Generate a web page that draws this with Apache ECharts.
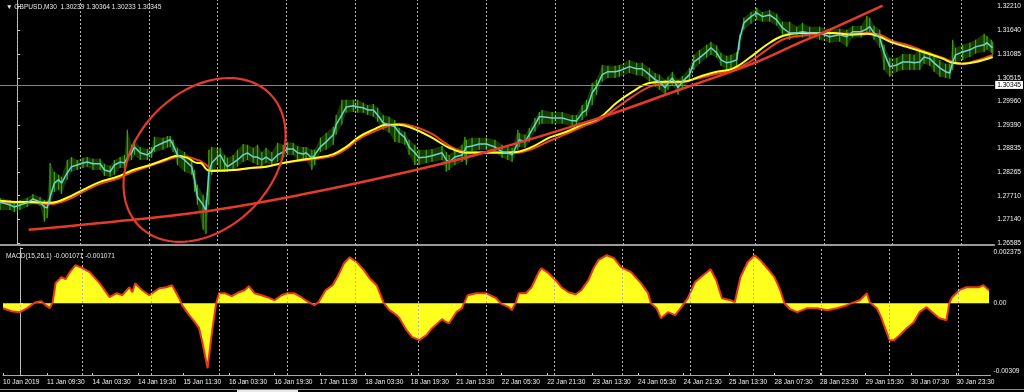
<!DOCTYPE html>
<html><head><meta charset="utf-8">
<script src="https://cdn.jsdelivr.net/npm/echarts@6/dist/echarts.min.js"></script>
<style>html,body{margin:0;padding:0;background:#000;}#c{width:1024px;height:392px;}</style>
</head><body><div id="c"></div>
<script>
// ---------- DATA ----------
// bar index (M30 bars, 0 = 11 Jan 00:00)
const priceBars = [-12,-5,-2,2,7,11,16,19,21,23, 26,29,31,35,38,42,46,49,53,58, 61,65,68,72,75,77,80,82,86,91,
 94,96,102,105,107,109,112,117,122,124, 126,130,132,134,136,140,142,145,147,151, 154,158,161,165,168,171,174,178,182,186,
 189,193,196,200,202,206,208,212,216,221, 223,227,230,235,238,242,245,249,252,256, 260,264,267,271,274,278,281,286,290,297,
 300,302,306,311,313,314,318,323,328,334, 339,343,346,350,351,355,358,362,365,367, 374,381,388,391,395,398,402,405,409,413,
 418,421,428,433,437,442,446,449,453,455, 458,462,465,470,473,477,482,485,489,492, 496,499,503,505,508,513,517,521,526,531,
 535,540,545,549,554,561,568,575,580,584, 590,594,596,599,603,606,610,615,619,624, 627,631,634,638,641,645,649,652,654,656,
 661,666,670,676,678,681,682];
const cyanMA = [1.2756,1.2749,1.2744,1.2749,1.2754,1.2763,1.2756,1.2744,1.2742,1.2768, 1.2801,1.2809,1.2801,1.2825,1.2840,1.2844,1.2849,1.2851,1.2847,1.2847,
 1.2832,1.2828,1.2844,1.2851,1.2849,1.2861,1.2873,1.2887,1.2873,1.2868, 1.2875,1.2887,1.2897,1.2901,1.2904,1.2892,1.2868,1.2856,1.2840,1.2809,
 1.2768,1.2749,1.2735,1.2825,1.2849,1.2863,1.2868,1.2849,1.2840,1.2849, 1.2856,1.2868,1.2873,1.2863,1.2863,1.2856,1.2863,1.2854,1.2868,1.2875,
 1.2882,1.2882,1.2873,1.2870,1.2873,1.2861,1.2868,1.2887,1.2899,1.2916, 1.2940,1.2963,1.2982,1.2985,1.2982,1.2980,1.2975,1.2975,1.2963,1.2944,
 1.2940,1.2935,1.2921,1.2909,1.2887,1.2873,1.2861,1.2863,1.2866,1.2873, 1.2856,1.2851,1.2863,1.2868,1.2880,1.2887,1.2889,1.2894,1.2894,1.2887,
 1.2875,1.2873,1.2868,1.2897,1.2904,1.2899,1.2916,1.2940,1.2959,1.2959, 1.2956,1.2956,1.2949,1.2949,1.2968,1.2975,1.3016,1.3030,1.3059,1.3066,
 1.3066,1.3068,1.3078,1.3073,1.3073,1.3059,1.3047,1.3042,1.3028,1.3039, 1.3051,1.3028,1.3042,1.3059,1.3089,1.3099,1.3113,1.3123,1.3111,1.3094,
 1.3087,1.3089,1.3094,1.3142,1.3182,1.3197,1.3206,1.3197,1.3201,1.3189, 1.3170,1.3158,1.3158,1.3161,1.3158,1.3158,1.3149,1.3154,1.3149,1.3161,
 1.3161,1.3168,1.3173,1.3158,1.3147,1.3111,1.3078,1.3082,1.3089,1.3089, 1.3087,1.3089,1.3101,1.3097,1.3087,1.3075,1.3066,1.3063,1.3089,1.3106,
 1.3113,1.3118,1.3125,1.3130,1.3135,1.3125,1.3123];
const priceHigh = [1.2766,1.2761,1.2756,1.2761,1.2766,1.2775,1.2768,1.2761,1.2759,1.2849, 1.2828,1.2821,1.2816,1.2856,1.2863,1.2856,1.2861,1.2863,1.2859,1.2859,
 1.2847,1.2842,1.2856,1.2863,1.2868,1.2928,1.2892,1.2904,1.2887,1.2882, 1.2887,1.2911,1.2909,1.2913,1.2913,1.2904,1.2885,1.2875,1.2861,1.2832,
 1.2797,1.2773,1.2761,1.2880,1.2887,1.2885,1.2885,1.2868,1.2861,1.2868, 1.2880,1.2894,1.2892,1.2885,1.2892,1.2875,1.2885,1.2875,1.2897,1.2892,
 1.2899,1.2897,1.2889,1.2887,1.2887,1.2880,1.2880,1.2909,1.2920,1.2935, 1.2963,1.2999,1.2999,1.2999,1.2999,1.2992,1.2987,1.2989,1.2980,1.2963,
 1.2959,1.2951,1.2932,1.2923,1.2904,1.2892,1.2880,1.2880,1.2882,1.2889, 1.2875,1.2868,1.2880,1.2892,1.2911,1.2904,1.2909,1.2909,1.2909,1.2904,
 1.2892,1.2887,1.2885,1.2928,1.2920,1.2916,1.2932,1.2956,1.2970,1.2975, 1.2970,1.2970,1.2963,1.2963,1.2987,1.2999,1.3039,1.3047,1.3082,1.3080,
 1.3080,1.3082,1.3094,1.3087,1.3087,1.3075,1.3063,1.3059,1.3047,1.3054, 1.3066,1.3047,1.3056,1.3075,1.3106,1.3118,1.3130,1.3137,1.3128,1.3111,
 1.3104,1.3106,1.3113,1.3154,1.3194,1.3208,1.3218,1.3208,1.3213,1.3204, 1.3185,1.3185,1.3173,1.3182,1.3173,1.3173,1.3166,1.3168,1.3166,1.3175,
 1.3175,1.3199,1.3194,1.3175,1.3166,1.3130,1.3099,1.3099,1.3108,1.3108, 1.3106,1.3118,1.3118,1.3113,1.3106,1.3094,1.3085,1.3085,1.3142,1.3123,
 1.3130,1.3135,1.3142,1.3156,1.3151,1.3142,1.3137];
const priceLow = [1.2737,1.2737,1.2732,1.2737,1.2744,1.2751,1.2747,1.2709,1.2718,1.2749, 1.2780,1.2785,1.2775,1.2809,1.2828,1.2832,1.2837,1.2840,1.2832,1.2832,
 1.2818,1.2816,1.2821,1.2837,1.2837,1.2851,1.2856,1.2868,1.2856,1.2856, 1.2861,1.2875,1.2880,1.2885,1.2887,1.2875,1.2844,1.2828,1.2821,1.2780,
 1.2749,1.2690,1.2680,1.2749,1.2821,1.2844,1.2832,1.2828,1.2828,1.2832, 1.2840,1.2851,1.2856,1.2849,1.2844,1.2840,1.2849,1.2842,1.2851,1.2861,
 1.2868,1.2868,1.2856,1.2856,1.2856,1.2832,1.2844,1.2875,1.2880,1.2892, 1.2916,1.2940,1.2968,1.2970,1.2968,1.2968,1.2963,1.2959,1.2947,1.2928,
 1.2921,1.2899,1.2897,1.2892,1.2868,1.2844,1.2844,1.2849,1.2851,1.2856, 1.2828,1.2832,1.2844,1.2851,1.2856,1.2844,1.2875,1.2880,1.2880,1.2873,
 1.2861,1.2856,1.2851,1.2880,1.2887,1.2885,1.2899,1.2923,1.2940,1.2942, 1.2942,1.2942,1.2935,1.2935,1.2951,1.2961,1.2987,1.3011,1.3042,1.3051,
 1.3051,1.3054,1.3063,1.3058,1.3056,1.3042,1.3030,1.3023,1.3011,1.3023, 1.3035,1.3011,1.3028,1.3042,1.3070,1.3085,1.3099,1.3106,1.3099,1.3080,
 1.3070,1.3075,1.3078,1.3118,1.3166,1.3180,1.3189,1.3185,1.3185,1.3175, 1.3154,1.3142,1.3147,1.3147,1.3147,1.3142,1.3135,1.3137,1.3125,1.3147,
 1.3147,1.3154,1.3158,1.3142,1.3123,1.3070,1.3054,1.3066,1.3070,1.3070, 1.3070,1.3070,1.3085,1.3080,1.3066,1.3054,1.3051,1.3049,1.3070,1.3089,
 1.3094,1.3101,1.3109,1.3113,1.3118,1.3111,1.3106];

const maBars = [-12,2,11,23,35,46,58,70,81,93, 105,112,119,126,128,133,137,151,163,174, 186,198,209,221,230,239,249,258,267,276,
 290,302,314,325,337,349,360,372,384,395, 407,419,430,442,454,465,477,489,500,512, 524,535,547,570,582,594,603,612,624,635, 647,654,661,670,682];
const yellowMA = [1.2759,1.2756,1.2756,1.2754,1.2766,1.2785,1.2804,1.2816,1.2832,1.2844, 1.2859,1.2866,1.2861,1.2849,1.2849,1.2832,1.2830,1.2832,1.2837,1.2840,
 1.2849,1.2856,1.2861,1.2870,1.2887,1.2911,1.2928,1.2940,1.2940,1.2932, 1.2909,1.2885,1.2873,1.2873,1.2873,1.2875,1.2887,1.2909,1.2923,1.2940,
 1.2956,1.2992,1.3018,1.3039,1.3042,1.3042,1.3054,1.3066,1.3073,1.3099, 1.3130,1.3151,1.3158,1.3158,1.3154,1.3156,1.3149,1.3135,1.3123,1.3111,
 1.3097,1.3087,1.3085,1.3089,1.3101];
const redMA = [1.2754,1.2754,1.2754,1.2751,1.2761,1.2780,1.2799,1.2811,1.2828,1.2842, 1.2856,1.2863,1.2863,1.2856,1.2854,1.2842,1.2832,1.2832,1.2837,1.2840,
 1.2849,1.2854,1.2859,1.2866,1.2882,1.2906,1.2923,1.2935,1.2942,1.2937, 1.2918,1.2890,1.2875,1.2875,1.2875,1.2873,1.2882,1.2901,1.2918,1.2935,
 1.2951,1.2980,1.3006,1.3030,1.3039,1.3042,1.3051,1.3061,1.3070,1.3089, 1.3118,1.3142,1.3151,1.3158,1.3156,1.3158,1.3154,1.3139,1.3128,1.3113,
 1.3099,1.3089,1.3085,1.3092,1.3106];

const trendBars = [8,58,128,198,267,328,407,463,473,517,547,565,605];
const trendPrices = [1.2690,1.2706,1.2732,1.2773,1.2823,1.2875,1.2956,1.3023,1.3035,1.3089,1.3135,1.3161,1.3223];

const ellipseCenter = [131, 1.2856];
const currentPrice = 1.30345;

const macdBars = [-12,-6,0,5,11,15,18,21,23,25, 29,32,35,39,44,49,56,63,68,72, 77,79,81,86,91,98,103,107,112,114,
 119,123,126,128,132,135,138,140,144,149, 154,158,161,165,170,174,179,184,188,193, 198,202,207,210,215,220,224,228,232,237,
 242,246,251,256,260,265,267,272,276,281, 286,290,297,300,302,307,311,315,321,328, 335,339,344,346,349,351,356,360,365,367,
 372,377,381,386,391,395,400,404,407,413, 418,423,430,437,442,444,448,451,456,461, 465,470,475,479,486,490,494,500,503,507,
 512,517,521,527,531,535,538,542,547,554, 561,568,575,582,587,591,596,598,603,606, 608,612,615,619,624,629,633,638,642,647,
 652,654,656,661,666,670,675,678,682];
const macdValues = [-0.000215,-0.000344,-0.000387,-0.000215,0.000043,0.000086,-0.000086,-0.000215,0.000043,0.000861,
 0.001119,0.001033,0.001334,0.001635,0.001506,0.001334,0.000861,0.000258,0.000430,0.000344,
 0.000688,0.000473,0.000861,0.000559,0.000344,0.000645,0.000688,0.000775,0.000215,-0.000086,
 -0.000516,-0.000818,-0.001076,-0.001592,-0.002797,-0.001291,0,0.000430,0.000430,0.000301,
 0.000473,0.000559,0.000732,0.000430,0.000344,0.000258,0.000129,0.000344,0.000430,0.000430,
 0.000258,0.000086,-0.000086,0.000043,0.000559,0.000775,0.001205,0.001721,0.001979,0.001764,
 0.001420,0.001076,0.000775,0,-0.000301,-0.000516,-0.000645,-0.001162,-0.001463,-0.001592,
 -0.001377,-0.001076,-0.000688,-0.000818,-0.000861,-0.000387,-0.000215,0.000344,0.000430,0.000430,
 0.000215,-0.000043,-0.000172,-0.000301,0.000043,0.000430,0.000430,0.000688,0.001334,0.001506,
 0.001291,0.000990,0.000688,0.000473,0.000387,0.000559,0.000990,0.001549,0.001850,0.002065,
 0.001936,0.001549,0.001334,0.000861,0.000430,0,-0.000215,-0.000645,-0.000387,-0.000516,
 -0.000215,0.000215,0.000904,0.001119,0.001463,0.000990,0.000215,0.000129,0.000043,0.001119,
 0.001764,0.002065,0.001850,0.001420,0.001119,0.000559,0,-0.000258,-0.000387,-0.000215,
 -0.000215,-0.000301,-0.000215,-0.000086,0.000043,0.000129,0.000430,0.000043,-0.000215,-0.000602,
 -0.000947,-0.001592,-0.001592,-0.001377,-0.001076,-0.000818,-0.000387,-0.000172,-0.000387,-0.000645,
 -0.000732,0,0.000258,0.000559,0.000688,0.000688,0.000688,0.000775,0.000559];

const dayBars = [0,44,92,140,188,236,280,328,376,424,472,516,564,612,660];
const timeTickBars = [-12,19,51,83,115,147,179,211,243,275,307,339,371,403,435,467,499,531,563,595,627,659];
const timeTickLabels = ['10 Jan 2019','11 Jan 09:30','14 Jan 03:30','14 Jan 19:30','15 Jan 11:30','16 Jan 03:30','16 Jan 19:30',
 '17 Jan 11:30','18 Jan 03:30','18 Jan 19:30','21 Jan 13:30','22 Jan 05:30','22 Jan 21:30','23 Jan 13:30','24 Jan 05:30',
 '24 Jan 21:30','25 Jan 13:30','28 Jan 07:30','28 Jan 23:30','29 Jan 15:30','30 Jan 07:30','30 Jan 23:30'];
const priceTicks = [1.32210,1.31640,1.31085,1.30515,1.29960,1.29390,1.28835,1.28265,1.27710,1.27140,1.26585];
const macdTicks = [0.002375, 0, -0.00309];
const macdTickLabels = ['0.002375','0.00','-0.00309'];
const mainTitle = '\u25BC GBPUSD,M30  1.30239 1.30364 1.30233 1.30345';
const macdTitle = 'MACD(15,26,1) -0.001071 -0.001071';

// ---------- CHART ----------
const FONT = 'Liberation Sans';
const FS = 6.6;
const zip = (xs, ys) => xs.map((x, i) => [x, ys[i]]);
const chart = echarts.init(document.getElementById('c'), null, {renderer: 'canvas'});

const dotted = {color: '#b4b4b4', width: 1, type: [2, 2]};
const dayLines = dayBars.map(b => ({xAxis: b, lineStyle: dotted, label: {show: false}}));

const ELL_A = 93, ELL_B = 68, ELL_T = 46 * Math.PI / 180;
const labelStyle = {color: '#f0f0f0', fontSize: FS, fontFamily: FONT};

chart.setOption({
  backgroundColor: '#000',
  animation: false,
  title: [
    {text: mainTitle, left: 1, top: -1, textStyle: {color: '#e6e6e6', fontSize: FS, fontFamily: FONT, fontWeight: 'normal'}},
    {text: macdTitle, left: 1, top: 248, textStyle: {color: '#e6e6e6', fontSize: FS, fontFamily: FONT, fontWeight: 'normal'}}
  ],
  grid: [
    {left: 0, top: 0, width: 995, height: 245},
    {left: 0, top: 248, width: 995, height: 127}
  ],
  xAxis: [
    {type: 'value', gridIndex: 0, min: -12, max: 683,
     axisLine: {show: true, onZero: false, lineStyle: {color: '#9a9a9a', width: 2}},
     axisTick: {show: false}, axisLabel: {show: false}, splitLine: {show: false}},
    {type: 'value', gridIndex: 1, min: -12, max: 683,
     axisLine: {show: true, onZero: false, lineStyle: {color: '#a8a8a8', width: 1}},
     axisTick: {show: true, inside: true, length: 2, customValues: timeTickBars, lineStyle: {color: '#c8c8c8'}},
     axisLabel: {show: true, customValues: timeTickBars, align: 'left', margin: 4, color: '#f0f0f0',
       fontSize: FS, fontFamily: FONT,
       formatter: v => { const i = timeTickBars.indexOf(v); return i >= 0 ? timeTickLabels[i] : ''; }},
     splitLine: {show: false}}
  ],
  yAxis: [
    {type: 'value', gridIndex: 0, position: 'right', min: 1.26537, max: 1.32365,
     axisLine: {show: true, lineStyle: {color: '#c0c0c0', width: 1}},
     axisTick: {show: true, length: 3, customValues: priceTicks, lineStyle: {color: '#c8c8c8'}},
     axisLabel: {show: true, customValues: priceTicks, margin: 3, color: '#f0f0f0', fontSize: FS, fontFamily: FONT,
       formatter: v => v.toFixed(5)},
     splitLine: {show: false}},
    {type: 'value', gridIndex: 1, position: 'right', min: -0.00309, max: 0.002375,
     axisLine: {show: true, lineStyle: {color: '#c0c0c0', width: 1}},
     axisTick: {show: true, length: 3, customValues: macdTicks, lineStyle: {color: '#c8c8c8'}},
     axisLabel: {show: true, customValues: macdTicks, margin: 3, color: '#f0f0f0', fontSize: FS, fontFamily: FONT,
       formatter: v => {
         const i = macdTicks.indexOf(v);
         if (i === 0) return '{top|' + macdTickLabels[i] + '}';
         if (i === 2) return '{bot|' + macdTickLabels[i] + '}';
         return i >= 0 ? macdTickLabels[i] : '';
       },
       rich: {top: Object.assign({padding: [8, 0, 0, 0]}, labelStyle), bot: Object.assign({padding: [0, 0, 7, 0]}, labelStyle)}},
     splitLine: {show: false}}
  ],
  series: [
    {name: 'grid-main', type: 'line', xAxisIndex: 0, yAxisIndex: 0, symbol: 'none', silent: true, z: 1,
     data: [[-12, cyanMA[0]]], lineStyle: {opacity: 0},
     markLine: {silent: true, symbol: ['none', 'none'], animation: false, precision: 5,
       data: dayLines.concat([{yAxis: currentPrice, lineStyle: {color: '#7c8794', width: 1, type: 'solid'},
         label: {show: true, position: 'end', distance: 1, formatter: '1.30345', color: '#000', backgroundColor: '#fff',
           padding: [1, 2, 0, 2], fontSize: FS, fontFamily: FONT}}])}},
    {name: 'price', type: 'custom', xAxisIndex: 0, yAxisIndex: 0, silent: true, z: 2, clip: true,
     data: [[priceBars[0], priceLow[0]]],
     renderItem: (params, api) => {
       const top = priceBars.map((b, i) => api.coord([b, priceHigh[i]]));
       const bot = priceBars.map((b, i) => api.coord([b, priceLow[i]])).reverse();
       const children = [{type: 'polygon', shape: {points: top.concat(bot)},
         style: {fill: 'rgba(44,112,6,0.5)', stroke: null}}];
       priceBars.forEach((b, i) => {
         const p1 = api.coord([b, priceHigh[i]]), p2 = api.coord([b, priceLow[i]]);
         children.push({type: 'line', shape: {x1: p1[0], y1: p1[1], x2: p2[0], y2: p2[1]},
           style: {stroke: '#46a40e', lineWidth: 1.2}});
       });
       return {type: 'group', children};
     }},
    {name: 'ma_red', type: 'line', xAxisIndex: 0, yAxisIndex: 0, symbol: 'none', smooth: 0.4, silent: true, z: 3,
     data: zip(maBars, redMA), lineStyle: {color: '#e8402c', width: 2}},
    {name: 'ma_yellow', type: 'line', xAxisIndex: 0, yAxisIndex: 0, symbol: 'none', smooth: 0.4, silent: true, z: 4,
     data: zip(maBars, yellowMA), lineStyle: {color: '#ffff1a', width: 2}},
    {name: 'cyan', type: 'line', xAxisIndex: 0, yAxisIndex: 0, symbol: 'none', silent: true, z: 5,
     data: zip(priceBars, cyanMA), lineStyle: {color: '#6ad2d2', width: 1.5}},
    {name: 'trend', type: 'line', xAxisIndex: 0, yAxisIndex: 0, symbol: 'none', smooth: 0.4, silent: true, z: 6,
     data: zip(trendBars, trendPrices), lineStyle: {color: '#e63b2b', width: 2.5}},
    {name: 'ellipse', type: 'custom', xAxisIndex: 0, yAxisIndex: 0, silent: true, z: 7,
     data: [ellipseCenter],
     renderItem: (params, api) => {
       const c = api.coord([api.value(0), api.value(1)]);
       const pts = [];
       for (let k = 0; k < 120; k++) {
         const t = k / 120 * Math.PI * 2;
         const ex = ELL_A * Math.cos(t), ey = ELL_B * Math.sin(t);
         pts.push([c[0] + ex * Math.cos(ELL_T) + ey * Math.sin(ELL_T), c[1] - ex * Math.sin(ELL_T) + ey * Math.cos(ELL_T)]);
       }
       return {type: 'polygon', shape: {points: pts}, style: {fill: null, stroke: '#e23a2c', lineWidth: 2.2}};
     }},
    {name: 'grid-macd', type: 'line', xAxisIndex: 1, yAxisIndex: 1, symbol: 'none', silent: true, z: 1,
     data: [[-12, 0]], lineStyle: {opacity: 0},
     markLine: {silent: true, symbol: ['none', 'none'], animation: false, data: dayLines}},
    {name: 'macd', type: 'line', xAxisIndex: 1, yAxisIndex: 1, symbol: 'none', silent: true, z: 3,
     data: zip(macdBars, macdValues),
     lineStyle: {color: '#e8361e', width: 2},
     areaStyle: {color: '#ffff1e', opacity: 1}}
  ],
  graphic: [
    {type: 'rect', left: 0, top: 389, shape: {width: 1024, height: 1}, style: {fill: '#8a8a8a'}, silent: true},
    {type: 'rect', left: 237, top: 390, shape: {width: 61, height: 2}, style: {fill: '#e8e8e8'}, silent: true}
  ]
});
</script>
</body></html>
